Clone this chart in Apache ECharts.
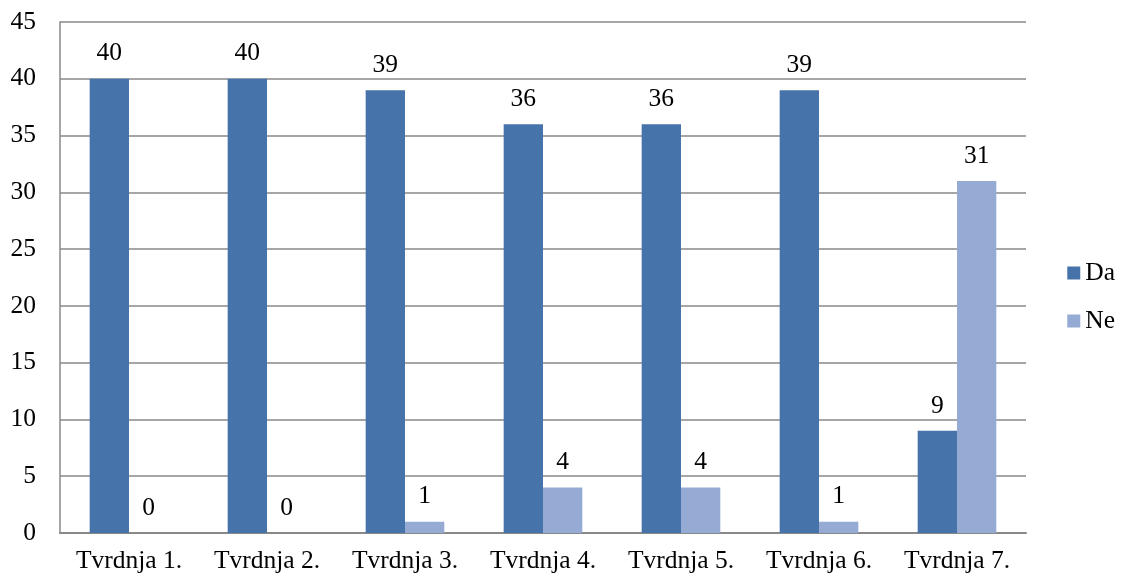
<!DOCTYPE html>
<html><head><meta charset="utf-8">
<script src="https://cdn.jsdelivr.net/npm/echarts@6/dist/echarts.min.js"></script>
<style>html,body{margin:0;padding:0;background:#fff}#c{width:1122px;height:578px}</style>
</head><body><div id="c"></div>
<script>
const categories = ['Tvrdnja 1.','Tvrdnja 2.','Tvrdnja 3.','Tvrdnja 4.','Tvrdnja 5.','Tvrdnja 6.','Tvrdnja 7.'];
const da = [40,40,39,36,36,39,9];
const ne = [0,0,1,4,4,1,31];
const font = 'Liberation Serif';
const FS = 25.5;
const chart = echarts.init(document.getElementById('c'));
const lbl = {show:true, position:'top', distance:12, color:'#000', fontFamily:font, fontSize:FS};
chart.setOption({
  animation:false,
  textStyle:{fontFamily:font},
  grid:{left:60, right:96, top:22, bottom:45, containLabel:false},
  legend:{orient:'vertical', right:2, top:255, itemWidth:13, itemHeight:13, itemGap:22,
    textStyle:{fontFamily:font, fontSize:FS, color:'#000'}, icon:'rect',
    data:['Da','Ne']},
  xAxis:{type:'category', data:categories,
    axisLine:{lineStyle:{color:'#888', width:2}}, axisTick:{show:false},
    axisLabel:{color:'#000', fontFamily:font, fontSize:FS, margin:15, interval:0, hideOverlap:false}},
  yAxis:{type:'value', min:0, max:45, interval:5,
    axisLine:{show:true, lineStyle:{color:'#888', width:1.5}}, axisTick:{show:false},
    splitLine:{lineStyle:{color:'#888', width:1.5}},
    axisLabel:{color:'#000', fontFamily:font, fontSize:FS, margin:24}},
  series:[
    {name:'Da', type:'bar', data:da, barWidth:'28.5%', barGap:'0%', itemStyle:{color:'#4673A9'}, label:lbl},
    {name:'Ne', type:'bar', data:ne, barWidth:'28.5%', barGap:'0%', itemStyle:{color:'#95ABD4'}, label:lbl}
  ]
});
</script></body></html>
